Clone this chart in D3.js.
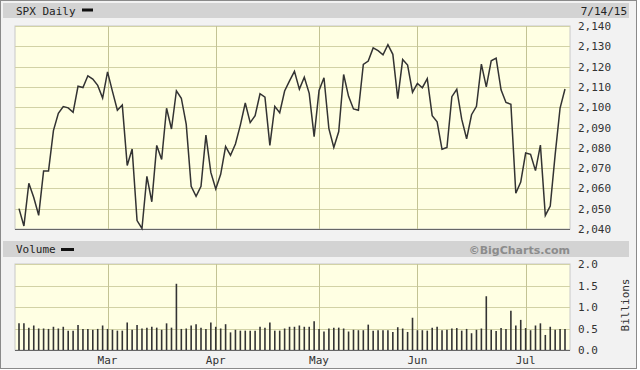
<!DOCTYPE html>
<html>
<head>
<meta charset="utf-8">
<script src="https://cdn.jsdelivr.net/npm/d3@7"></script>
<style>
  body { margin: 0; background: #ffffff; }
  svg { display: block; }
</style>
</head>
<body>
<div id="chart"></div>
<script>
const chartWidth = 640;
const chartHeight = 370;

// trading days, Feb 3 - Jul 14 2015
const dates = [
  "2/3","2/4","2/5","2/6","2/9","2/10","2/11","2/12","2/13","2/17","2/18","2/19","2/20","2/23","2/24","2/25","2/26","2/27",
  "3/2","3/3","3/4","3/5","3/6","3/9","3/10","3/11","3/12","3/13","3/16","3/17","3/18","3/19","3/20","3/23","3/24","3/25","3/26","3/27","3/30","3/31",
  "4/1","4/2","4/6","4/7","4/8","4/9","4/10","4/13","4/14","4/15","4/16","4/17","4/20","4/21","4/22","4/23","4/24","4/27","4/28","4/29","4/30",
  "5/1","5/4","5/5","5/6","5/7","5/8","5/11","5/12","5/13","5/14","5/15","5/18","5/19","5/20","5/21","5/22","5/26","5/27","5/28","5/29",
  "6/1","6/2","6/3","6/4","6/5","6/8","6/9","6/10","6/11","6/12","6/15","6/16","6/17","6/18","6/19","6/22","6/23","6/24","6/25","6/26","6/29","6/30",
  "7/1","7/2","7/6","7/7","7/8","7/9","7/10","7/13","7/14"
];

const closes = [
  2050.03,2041.51,2062.52,2055.47,2046.74,2068.59,2068.53,2088.48,2096.99,2100.34,2099.68,2097.45,2110.30,2109.66,2115.48,2113.86,2110.74,2104.50,
  2117.39,2107.78,2098.53,2101.04,2071.26,2079.43,2044.16,2040.24,2065.95,2053.40,2081.19,2074.28,2099.50,2089.27,2108.10,2104.42,2091.50,2061.05,2056.15,2061.02,2086.24,2067.89,
  2059.69,2066.96,2080.62,2076.33,2081.90,2091.18,2102.06,2092.43,2095.84,2106.63,2104.99,2081.18,2100.40,2097.29,2107.96,2112.93,2117.69,2108.92,2114.76,2106.85,2085.51,
  2108.29,2114.49,2089.46,2080.15,2088.00,2116.10,2105.33,2099.12,2098.48,2121.10,2122.73,2129.20,2127.83,2125.85,2130.82,2126.06,2104.20,2123.48,2120.79,2107.39,
  2111.73,2109.60,2114.07,2095.84,2092.83,2079.28,2080.15,2105.20,2108.86,2094.11,2084.43,2096.29,2100.44,2121.24,2109.99,2122.85,2124.20,2108.58,2102.31,2101.49,2057.64,2063.11,
  2077.42,2076.78,2068.76,2081.34,2046.68,2051.31,2076.62,2099.60,2108.95
];

// volume in billions
const volumes = [
  0.62,0.62,0.52,0.57,0.50,0.50,0.49,0.54,0.50,0.54,0.45,0.45,0.58,0.49,0.49,0.47,0.49,0.57,
  0.49,0.47,0.45,0.45,0.64,0.47,0.58,0.50,0.52,0.54,0.52,0.47,0.62,0.52,1.54,0.49,0.50,0.57,0.60,0.52,0.49,0.64,
  0.54,0.50,0.60,0.41,0.47,0.45,0.45,0.45,0.45,0.54,0.52,0.64,0.45,0.45,0.50,0.54,0.54,0.57,0.54,0.54,0.67,
  0.49,0.43,0.50,0.52,0.52,0.50,0.43,0.47,0.46,0.46,0.59,0.45,0.46,0.46,0.46,0.42,0.53,0.50,0.42,0.75,
  0.46,0.46,0.45,0.52,0.54,0.46,0.47,0.50,0.51,0.45,0.49,0.39,0.47,0.50,1.25,0.47,0.44,0.51,0.49,0.91,0.57,0.70,
  0.51,0.46,0.57,0.62,0.35,0.54,0.47,0.49,0.49
];

const priceTicks = [2040,2050,2060,2070,2080,2090,2100,2110,2120,2130,2140];
const volumeTicks = [0, 0.5, 1.0, 1.5, 2.0];
const monthLabels = {"3": "Mar", "4": "Apr", "5": "May", "6": "Jun", "7": "Jul"};

const plot = { left: 15, right: 570 };
const pricePanel = { top: 26, bottom: 229 };
const volPanel = { top: 264, bottom: 350 };

const gridColor = "#d2d2a6";
const vGridColor = "#c3c394";
const plotFill = "#ffffe3";
const barColor = "#d3d3d3";
const mono = "'DejaVu Sans Mono', monospace";

// first trading day of each month gets a grid line + label
var monthStarts = [];
for (var i = 1; i < dates.length; i++) {
  var m = dates[i].split("/")[0];
  if (m !== dates[i - 1].split("/")[0] && monthLabels[m])
    monthStarts.push({ index: i, label: monthLabels[m] });
}

var xScale = d3.scaleLinear()
              .domain([0, dates.length - 1])
              .range([19, 565]);

var yScale = d3.scaleLinear()
              .domain([2040, 2140])
              .range([pricePanel.bottom, pricePanel.top]);

var vScale = d3.scaleLinear()
              .domain([0, 2])
              .range([volPanel.bottom, volPanel.top]);

var svg = d3.select("#chart")
            .append("svg")
            .attr("width", chartWidth)
            .attr("height", chartHeight);

// frame + background
svg.append("rect")
  .attr("x", 0.5).attr("y", 0.5)
  .attr("width", 636).attr("height", 368)
  .attr("fill", "#f2f2f2")
  .attr("stroke", "#8a8a8a");

// header bars
svg.append("rect").attr("x", 3).attr("y", 3).attr("width", 626).attr("height", 15).attr("fill", barColor);
svg.append("rect").attr("x", 3).attr("y", 241).attr("width", 626).attr("height", 16).attr("fill", barColor);

svg.append("text")
  .attr("x", 16).attr("y", 14.5)
  .attr("font-family", mono).attr("font-size", 11)
  .attr("fill", "#222")
  .text("SPX Daily");
svg.append("rect").attr("x", 82).attr("y", 8.5).attr("width", 11).attr("height", 3).attr("fill", "#111");

svg.append("text")
  .attr("x", 627).attr("y", 14.5)
  .attr("text-anchor", "end")
  .attr("font-family", mono).attr("font-size", 11)
  .attr("fill", "#222")
  .text("7/14/15");

svg.append("text")
  .attr("x", 16).attr("y", 253)
  .attr("font-family", mono).attr("font-size", 11)
  .attr("fill", "#222")
  .text("Volume");
svg.append("rect").attr("x", 61).attr("y", 248).attr("width", 13).attr("height", 3).attr("fill", "#111");

svg.append("text")
  .attr("x", 570).attr("y", 253.5)
  .attr("text-anchor", "end")
  .attr("font-family", "'DejaVu Sans', sans-serif").attr("font-size", 11)
  .attr("font-weight", "bold")
  .attr("fill", "#8c8c8c")
  .text("\u00a9BigCharts.com");

// draws one panel: fill, grid lines and right axis
function drawPanel(panel, scale, ticks, fmt) {
  var g = svg.append("g");
  g.append("rect")
    .attr("x", plot.left).attr("y", panel.top)
    .attr("width", plot.right - plot.left)
    .attr("height", panel.bottom - panel.top)
    .attr("fill", plotFill)
    .attr("stroke", "#c8c8c8");

  g.selectAll(".hgrid")
    .data(ticks)
    .enter().append("line")
    .attr("x1", plot.left).attr("x2", plot.right)
    .attr("y1", d => Math.round(scale(d)) + 0.5)
    .attr("y2", d => Math.round(scale(d)) + 0.5)
    .attr("stroke", gridColor);

  g.selectAll(".vgrid")
    .data(monthStarts)
    .enter().append("line")
    .attr("x1", d => Math.round(xScale(d.index)) + 0.5)
    .attr("x2", d => Math.round(xScale(d.index)) + 0.5)
    .attr("y1", panel.top).attr("y2", panel.bottom)
    .attr("stroke", vGridColor);

  var axis = d3.axisRight(scale)
              .tickValues(ticks)
              .tickFormat(fmt)
              .tickSize(0)
              .tickPadding(8);

  var ax = svg.append("g")
    .attr("transform", "translate(" + plot.right + ",0)")
    .call(axis);
  ax.select(".domain").remove();
  ax.selectAll("text")
    .attr("font-family", mono)
    .attr("font-size", 11)
    .attr("fill", "#333");

  // dark baseline
  svg.append("line")
    .attr("x1", plot.left).attr("x2", plot.right)
    .attr("y1", panel.bottom + 0.5).attr("y2", panel.bottom + 0.5)
    .attr("stroke", "#666");
}

drawPanel(pricePanel, yScale, priceTicks, d3.format(","));
drawPanel(volPanel, vScale, volumeTicks, d3.format(".1f"));

// price line
var line = d3.line()
            .x((d, i) => xScale(i))
            .y(d => yScale(d));

svg.append("path")
  .datum(closes)
  .attr("fill", "none")
  .attr("stroke", "#333")
  .attr("stroke-width", 1.5)
  .attr("stroke-linejoin", "miter")
  .attr("d", line);

// volume bars
svg.selectAll(".vol")
  .data(volumes)
  .enter().append("line")
  .attr("x1", (d, i) => xScale(i))
  .attr("x2", (d, i) => xScale(i))
  .attr("y1", vScale(0))
  .attr("y2", d => vScale(d))
  .attr("stroke", "#333")
  .attr("stroke-width", 1.6);

// month labels
svg.selectAll(".month")
  .data(monthStarts)
  .enter().append("text")
  .attr("x", d => xScale(d.index))
  .attr("y", 364)
  .attr("text-anchor", "middle")
  .attr("font-family", mono)
  .attr("font-size", 11)
  .attr("fill", "#333")
  .text(d => d.label);

// Billions label
svg.append("text")
  .attr("transform", "translate(629,305) rotate(-90)")
  .attr("text-anchor", "middle")
  .attr("font-family", mono)
  .attr("font-size", 11)
  .attr("fill", "#333")
  .text("Billions");
</script>
</body>
</html>
